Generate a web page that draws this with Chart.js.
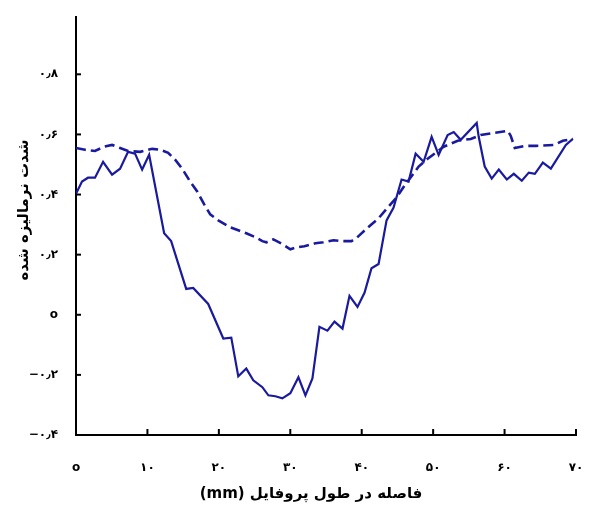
<!DOCTYPE html>
<html>
<head>
<meta charset="utf-8">
<script src="https://cdn.jsdelivr.net/npm/chart.js@4.4.1/dist/chart.umd.min.js"></script>
<style>
  body { margin: 0; background: #fff; }
  canvas { display: block; }
</style>
</head>
<body>
<canvas id="profileChart" width="606" height="508"></canvas>
<script>
// محور ها
const xTickValues = [0, 10, 20, 30, 40, 50, 60, 70];
const xTickLabels = ['o', '۱۰', '۲۰', '۳۰', '۴۰', '۵۰', '۶۰', '۷۰'];
const yTickValues = [-0.4, -0.2, 0, 0.2, 0.4, 0.6, 0.8];
const yTickLabels = ['−۰٫۴', '−۰٫۲', 'o', '۰٫۲', '۰٫۴', '۰٫۶', '۰٫۸'];
const xTitle = 'فاصله در طول پروفایل (mm)';
const yTitle = 'شدت نرمالیزه شده';

// منحنی خط پیوسته
const solidX = [0, 0.84, 1.68, 2.66, 3.79, 5.05, 6.17, 7.29, 8.27, 9.26, 10.24, 12.34, 13.32, 15.43, 16.41,
  18.51, 20.62, 21.74, 22.72, 23.84, 24.82, 26.09, 26.93, 27.91, 28.89, 30.01, 31.14, 32.12, 33.10, 34.08,
  35.20, 36.19, 37.31, 38.29, 39.41, 40.39, 41.37, 42.36, 43.48, 44.46, 45.58, 46.56, 47.55, 48.67, 49.79,
  50.77, 52.03, 52.88, 53.86, 56.10, 56.38, 57.22, 58.20, 59.19, 60.31, 61.29, 62.41, 63.39, 64.24, 65.36,
  66.48, 68.58, 69.56];
const solidY = [0.403, 0.443, 0.456, 0.456, 0.509, 0.466, 0.486, 0.542, 0.536, 0.483, 0.532, 0.271, 0.245, 0.086, 0.089,
  0.036, -0.079, -0.076, -0.205, -0.179, -0.218, -0.241, -0.268, -0.271, -0.278, -0.261, -0.208, -0.268, -0.212, -0.040,
  -0.053, -0.023, -0.046, 0.063, 0.026, 0.073, 0.155, 0.169, 0.314, 0.357, 0.450, 0.443, 0.536, 0.509, 0.592,
  0.532, 0.598, 0.608, 0.582, 0.638, 0.592, 0.493, 0.453, 0.483, 0.450, 0.469, 0.446, 0.473, 0.469, 0.506,
  0.486, 0.565, 0.585];

// منحنی خط چین
const dashedX = [0, 1.26, 2.66, 3.93, 5.05, 6.17, 7.29, 8.98, 10.66, 11.78, 12.90, 13.88, 14.87, 15.99, 16.97,
  17.95, 18.79, 19.92, 21.60, 22.72, 23.84, 25.11, 26.09, 26.65, 27.63, 28.89, 30.01, 31.00, 31.98, 33.52,
  34.64, 36.05, 37.31, 38.57, 39.27, 40.11, 41.23, 42.36, 43.76, 44.88, 46.00, 47.13, 47.97, 49.23, 50.35,
  51.47, 52.45, 53.44, 55.26, 56.66, 58.49, 60.45, 60.87, 61.43, 62.83, 64.38, 66.90, 68.16, 69.56];
const dashedY = [0.555, 0.549, 0.545, 0.559, 0.565, 0.555, 0.545, 0.542, 0.552, 0.549, 0.539, 0.516, 0.486, 0.443, 0.410,
  0.367, 0.334, 0.314, 0.291, 0.281, 0.271, 0.258, 0.245, 0.241, 0.251, 0.235, 0.218, 0.225, 0.228, 0.238,
  0.241, 0.248, 0.245, 0.245, 0.255, 0.274, 0.298, 0.321, 0.360, 0.390, 0.430, 0.466, 0.493, 0.519, 0.539,
  0.559, 0.569, 0.579, 0.585, 0.598, 0.605, 0.612, 0.595, 0.555, 0.562, 0.562, 0.565, 0.579, 0.585];

const lineColor = '#1a1a9e';

function toPoints(xs, ys) {
  return xs.map((x, i) => ({ x: x, y: ys[i] }));
}

// تیک های داخلی و عنوان محورها
const axisDecor = {
  id: 'axisDecor',
  afterDraw(chart) {
    const ctx = chart.ctx;
    const xs = chart.scales.x;
    const ys = chart.scales.y;
    const a = chart.chartArea;
    ctx.save();
    ctx.strokeStyle = '#000';
    ctx.lineWidth = 2;
    xTickValues.forEach(v => {
      const px = xs.getPixelForValue(v);
      ctx.beginPath();
      ctx.moveTo(px, a.bottom);
      ctx.lineTo(px, a.bottom - 6);
      ctx.stroke();
    });
    yTickValues.forEach(v => {
      const py = ys.getPixelForValue(v);
      ctx.beginPath();
      ctx.moveTo(a.left, py);
      ctx.lineTo(a.left + 5, py);
      ctx.stroke();
    });

    ctx.fillStyle = '#000';
    ctx.font = 'bold 15px "DejaVu Sans"';
    ctx.direction = 'rtl';
    ctx.textAlign = 'center';
    ctx.textBaseline = 'middle';
    ctx.fillText(xTitle, 311, 494);

    ctx.translate(24, 210);
    ctx.rotate(-Math.PI / 2);
    ctx.fillText(yTitle, 0, 0);
    ctx.restore();
  }
};

new Chart(document.getElementById('profileChart'), {
  type: 'line',
  data: {
    datasets: [
      {
        label: 'solid',
        data: toPoints(solidX, solidY),
        borderColor: lineColor,
        borderWidth: 2.2,
        pointRadius: 0,
        tension: 0,
        fill: false
      },
      {
        label: 'dashed',
        data: toPoints(dashedX, dashedY),
        borderColor: lineColor,
        borderWidth: 2.6,
        borderDash: [10, 5],
        pointRadius: 0,
        tension: 0,
        fill: false
      }
    ]
  },
  options: {
    responsive: false,
    animation: false,
    layout: { padding: { top: 14, right: 30, left: 0, bottom: 0 } },
    plugins: {
      legend: { display: false },
      tooltip: { enabled: false }
    },
    scales: {
      x: {
        type: 'linear',
        min: 0,
        max: 70,
        grid: { display: false },
        border: { display: true, color: '#000', width: 2 },
        afterBuildTicks: scale => { scale.ticks = xTickValues.map(v => ({ value: v })); },
        afterFit: scale => { scale.height = 73; },
        ticks: {
          color: '#000',
          padding: 18,
          maxRotation: 0,
          font: { family: 'DejaVu Sans', size: 12, weight: 'bold' },
          callback: value => xTickLabels[xTickValues.indexOf(value)]
        }
      },
      y: {
        type: 'linear',
        min: -0.4,
        max: 0.99,
        grid: { display: false },
        border: { display: true, color: '#000', width: 2 },
        afterBuildTicks: scale => { scale.ticks = yTickValues.map(v => ({ value: v })); },
        afterFit: scale => { scale.width = 76; },
        ticks: {
          color: '#000',
          padding: 10,
          font: { family: 'DejaVu Sans', size: 12, weight: 'bold' },
          callback: value => yTickLabels[yTickValues.findIndex(v => Math.abs(v - value) < 1e-6)]
        }
      }
    }
  },
  plugins: [axisDecor]
});
</script>
</body>
</html>
